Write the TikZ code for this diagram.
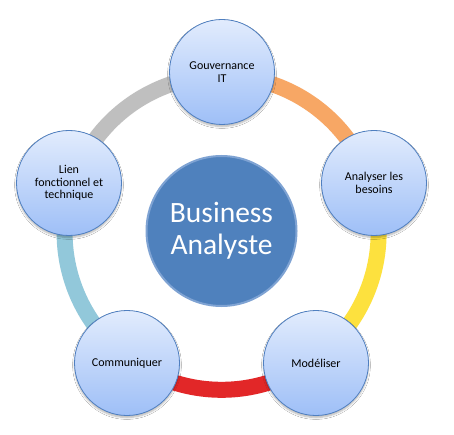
\documentclass[tikz,border=0pt]{standalone}
\usepackage{fontspec}
\setmainfont{Carlito}
\usetikzlibrary{shadows.blur}
\definecolor{arcorange}{HTML}{F7A765}
\definecolor{arcyellow}{HTML}{FDE13E}
\definecolor{arcred}{HTML}{E22728}
\definecolor{arcblue}{HTML}{92C8DA}
\definecolor{arcgray}{HTML}{BFBFBF}
\definecolor{bubtop}{HTML}{E2ECFD}
\definecolor{bubbot}{HTML}{9EBFF7}
\definecolor{bubline}{HTML}{4F7FC0}
\definecolor{hubfill}{HTML}{4F81BD}
\definecolor{hubline}{HTML}{7FA3D3}
\begin{document}
\begin{tikzpicture}[x=1pt,y=1pt,
  bubble/.style={circle, minimum size=105pt, inner sep=0pt, draw=bubline, line width=0.8pt,
    top color=bubtop, bottom color=bubbot, align=center,
    font=\fontsize{12}{12.8}\selectfont, text=black,
    blur shadow={shadow xshift=0pt, shadow yshift=-2pt, shadow opacity=30, shadow blur steps=6}},
  hub/.style={circle, minimum size=150pt, inner sep=0pt, fill=hubfill, draw=hubline, line width=2pt,
    align=center, text=white, font=\fontsize{29.5}{32}\selectfont},
  ringarc/.style={line width=16pt}]
\useasboundingbox (0,0) rectangle (454,434);
\fill[white] (0,0) rectangle (454,434);
\coordinate (ring) at (221.6,201.2);
% ring arcs
\draw[ringarc, arcorange] (ring) ++(90:157) arc[start angle=90, end angle=18, radius=157];
\draw[ringarc, arcyellow] (ring) ++(18:157) arc[start angle=18, end angle=-54, radius=157];
\draw[ringarc, arcred] (ring) ++(-54:157) arc[start angle=-54, end angle=-126, radius=157];
\draw[ringarc, arcblue] (ring) ++(-126:157) arc[start angle=-126, end angle=-198, radius=157];
\draw[ringarc, arcgray] (ring) ++(162:157) arc[start angle=162, end angle=90, radius=157];
% hub
\node[hub] (hub) at (221.5,203) {Business\\Analyste};
% bubbles
\node[bubble] (gov) at (222,362) {Gouvernance\\IT};
\node[bubble] (ana) at (374,251) {Analyser les\\besoins};
\node[bubble] (mod) at (316,71) {Modéliser};
\node[bubble] (com) at (127,71) {Communiquer};
\node[bubble] (lien) at (69,251) {Lien\\fonctionnel et\\technique};
\end{tikzpicture}
\end{document}
